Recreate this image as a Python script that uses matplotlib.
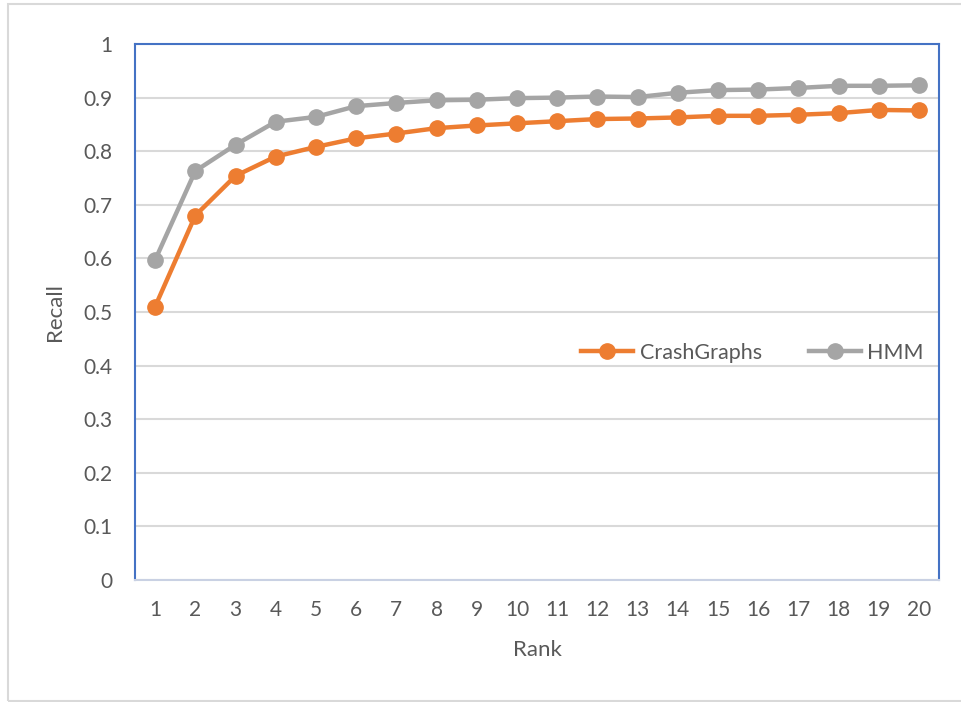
import numpy as np
import matplotlib.pyplot as plt

# Recall at rank k for the two approaches
rank = list(range(1, 21))
crashgraphs = [0.510, 0.680, 0.754, 0.790, 0.808, 0.824, 0.833, 0.843, 0.848, 0.852,
               0.856, 0.860, 0.861, 0.863, 0.866, 0.866, 0.868, 0.871, 0.877, 0.876]
hmm = [0.597, 0.763, 0.812, 0.855, 0.864, 0.884, 0.890, 0.895, 0.896, 0.899,
       0.900, 0.902, 0.901, 0.909, 0.914, 0.915, 0.918, 0.922, 0.922, 0.923]

plt.rcParams["font.family"] = ["Lato", "DejaVu Sans"]
TEXT = "#595959"

fig = plt.figure(figsize=(9.61, 7.02), dpi=100)
ax = fig.add_axes([135 / 961, 122 / 702, 804 / 961, 536 / 702])

# Rahmen um das ganze Diagramm
fig.patches.append(plt.Rectangle((8 / 961, 0.002), 1.0, 697 / 702, transform=fig.transFigure,
                                 fill=False, edgecolor="#D9D9D9", linewidth=1.5))

ax.plot(rank, crashgraphs, color="#ED7D31", linewidth=3.2, marker="o", markersize=11,
        label="CrashGraphs", zorder=3)
ax.plot(rank, hmm, color="#A5A5A5", linewidth=3.2, marker="o", markersize=11,
        label="HMM", zorder=3)

ax.set_xlim(0.5, 20.5)
ax.set_ylim(0, 1)
ax.set_xticks(rank)
ax.set_yticks(np.arange(0, 1.01, 0.1))
ax.set_yticklabels(["0", "0.1", "0.2", "0.3", "0.4", "0.5", "0.6", "0.7", "0.8", "0.9", "1"])
ax.tick_params(axis="both", length=0, labelsize=15, labelcolor=TEXT)
ax.tick_params(axis="y", pad=16.5)
ax.tick_params(axis="x", pad=14.5)

ax.grid(axis="y", color="#D9D9D9", linewidth=1.5)
ax.set_axisbelow(True)
for s in ("top", "left", "right"):
    ax.spines[s].set_color("#4472C4")
    ax.spines[s].set_linewidth(1.5)
ax.spines["bottom"].set_color("#C9D1E3")
ax.spines["bottom"].set_linewidth(1.5)

ax.set_xlabel("Rank", fontsize=16, color=TEXT, labelpad=14)
ax.set_ylabel("Recall", fontsize=16, color=TEXT, labelpad=13)

ax.legend(loc="center right", bbox_to_anchor=(1.005, 0.4235), ncol=2, frameon=False,
          fontsize=15.5, labelcolor=TEXT, handlelength=2.4, handletextpad=0.3, columnspacing=2.2)

fig.savefig("out.png", dpi=100)
